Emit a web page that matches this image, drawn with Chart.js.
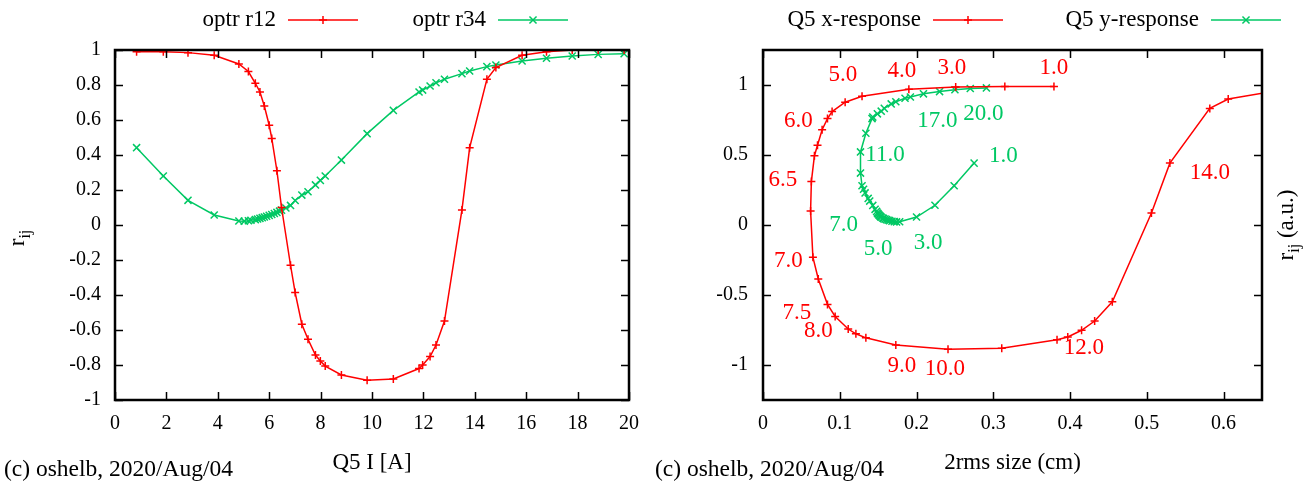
<!DOCTYPE html>
<html>
<head>
<meta charset="utf-8">
<script src="https://cdn.jsdelivr.net/npm/chart.js@4"></script>
<style>
  body { margin: 0; background: #fff; }
  .box { position: absolute; top: 0; width: 652px; height: 483px; }
</style>
</head>
<body>
<div class="box" style="left:0"><canvas id="scan"></canvas></div>
<div class="box" style="left:652px"><canvas id="loop"></canvas></div>
<script>
// Q5 scan, x plane: current [A], optr r12, 2rms size x [cm] (null = off the plot)
const currentR12 = [0.84, 1.88, 2.84, 3.86, 4.82, 5.19, 5.46, 5.64, 5.81, 6.00, 6.10, 6.30, 6.48,
  6.83, 7.01, 7.27, 7.51, 7.80, 7.99, 8.18, 8.81, 9.81, 10.83, 11.83, 11.97, 12.26, 12.49, 12.82,
  13.50, 13.80, 14.47, 14.82, 15.84, 16.79, 17.79, 18.80, 19.81];
const r12 = [0.99, 0.99, 0.985, 0.97, 0.92, 0.877, 0.81, 0.76, 0.68, 0.57, 0.495, 0.31, 0.10,
  -0.23, -0.386, -0.567, -0.653, -0.743, -0.777, -0.806, -0.857, -0.887, -0.88, -0.82, -0.80, -0.752, -0.686, -0.549,
  0.086, 0.442, 0.833, 0.90, 0.97, 0.99, 1.0, 1.0, 1.0];
const sizeX = [0.379, 0.315, 0.251, 0.190, 0.129, 0.107, 0.090, 0.084, 0.077, 0.071, 0.067, 0.063, 0.062,
  0.065, 0.072, 0.084, 0.094, 0.111, 0.121, 0.134, 0.173, 0.241, 0.311, 0.383, 0.397, 0.415, 0.432, 0.455,
  0.506, 0.530, 0.582, 0.606, 0.682, null, null, null, null];

// Q5 scan, y plane: current [A], optr r34, 2rms size y [cm]
const currentR34 = [0.84, 1.88, 2.84, 3.86, 4.82, 5.03, 5.19, 5.29, 5.46, 5.55, 5.64, 5.73, 5.81, 5.90,
  6.00, 6.10, 6.20, 6.30, 6.40, 6.48, 6.65, 6.83, 7.01, 7.27, 7.51, 7.80, 7.99, 8.18, 8.81, 9.81,
  10.83, 11.83, 11.97, 12.26, 12.49, 12.82, 13.50, 13.80, 14.47, 14.82, 15.84, 16.79, 17.79, 18.80, 19.81];
const r34 = [0.442, 0.28, 0.141, 0.057, 0.023, 0.022, 0.024, 0.027, 0.031, 0.034, 0.038, 0.042, 0.046, 0.050,
  0.055, 0.060, 0.066, 0.072, 0.079, 0.085, 0.097, 0.112, 0.14, 0.171, 0.19, 0.229, 0.255, 0.28, 0.371, 0.522,
  0.655, 0.76, 0.771, 0.794, 0.813, 0.833, 0.865, 0.88, 0.905, 0.914, 0.937, 0.953, 0.966, 0.975, 0.979];
const sizeY = [0.275, 0.249, 0.224, 0.200, 0.178, 0.174, 0.171, 0.168, 0.165, 0.163, 0.161, 0.159, 0.157, 0.156,
  0.154, 0.153, 0.152, 0.151, 0.150, 0.149, 0.148, 0.146, 0.143, 0.139, 0.137, 0.133, 0.131, 0.129, 0.127, 0.127,
  0.134, 0.142, 0.143, 0.149, 0.154, 0.158, 0.167, 0.173, 0.185, 0.192, 0.209, 0.230, 0.250, 0.270, 0.291];

// current labels along the size/correlation curves (0 = x-response, 1 = y-response)
const tagText   = ['1.0', '3.0', '4.0', '5.0', '6.0', '6.5', '7.0', '7.5', '8.0', '9.0', '10.0', '12.0', '14.0',
  '1.0', '3.0', '5.0', '7.0', '11.0', '17.0', '20.0'];
const tagSize   = [0.379, 0.246, 0.181, 0.104, 0.046, 0.026, 0.033, 0.044, 0.072, 0.181, 0.237, 0.418, 0.582,
  0.313, 0.215, 0.150, 0.105, 0.159, 0.227, 0.287];
const tagR      = [1.124, 1.124, 1.10, 1.069, 0.743, 0.319, -0.257, -0.626, -0.757, -1.007, -1.031, -0.876, 0.374,
  0.493, -0.126, -0.174, -0.002, 0.498, 0.743, 0.791];
const tagSeries = [0, 0, 0, 0, 0, 0, 0, 0, 0, 0, 0, 0, 0, 1, 1, 1, 1, 1, 1, 1];

// axis ticks
const ticksCurrent = [0, 2, 4, 6, 8, 10, 12, 14, 16, 18, 20];
const ticksR = [-1, -0.8, -0.6, -0.4, -0.2, 0, 0.2, 0.4, 0.6, 0.8, 1];
const ticksSize = [0, 0.1, 0.2, 0.3, 0.4, 0.5, 0.6];
const ticksRLoop = [-1, -0.5, 0, 0.5, 1];

const RED = '#ff0000';
const GREEN = '#00c864';
const SERIF = '"Liberation Serif", "Times New Roman", serif';

Chart.defaults.font.family = SERIF;
Chart.defaults.font.size = 20;
Chart.defaults.color = '#000';

function marker(ctx, style, cx, cy, r) {
  ctx.beginPath();
  if (style === 'cross') {
    ctx.moveTo(cx - r, cy); ctx.lineTo(cx + r, cy);
    ctx.moveTo(cx, cy - r); ctx.lineTo(cx, cy + r);
  } else {
    const d = r * Math.SQRT1_2;
    ctx.moveTo(cx - d, cy - d); ctx.lineTo(cx + d, cy + d);
    ctx.moveTo(cx - d, cy + d); ctx.lineTo(cx + d, cy - d);
  }
  ctx.stroke();
}

// r_ij with a real subscript, rotated along the y axis
function yTitle(ctx, x, y, tail) {
  ctx.save();
  ctx.translate(x, y);
  ctx.rotate(-Math.PI / 2);
  ctx.fillStyle = '#000';
  ctx.textBaseline = 'alphabetic';
  ctx.textAlign = 'left';
  const big = '23px ' + SERIF, small = '16px ' + SERIF;
  ctx.font = big;
  const wr = ctx.measureText('r').width, wt = tail ? ctx.measureText(tail).width : 0;
  ctx.font = small;
  const ws = ctx.measureText('ij').width;
  let px = -(wr + ws + wt) / 2;
  ctx.font = big; ctx.fillText('r', px, 0); px += wr;
  ctx.font = small; ctx.fillText('ij', px, 6); px += ws;
  if (tail) { ctx.font = big; ctx.fillText(tail, px, 0); }
  ctx.restore();
}

// gnuplot style frame, inward ticks on all sides, key, titles and stamp
const gnuplotLook = {
  id: 'gnuplotLook',
  afterDatasetsDraw(chart, args, opts) {
    const {ctx, chartArea: a, scales: {x, y}} = chart;
    ctx.save();
    ctx.strokeStyle = '#000';
    ctx.lineWidth = 1.5;
    ctx.beginPath();
    x.ticks.forEach(t => {
      const px = Math.round(x.getPixelForValue(t.value)) + 0.5;
      ctx.moveTo(px, a.bottom); ctx.lineTo(px, a.bottom - 8);
      ctx.moveTo(px, a.top); ctx.lineTo(px, a.top + 8);
    });
    y.ticks.forEach(t => {
      const py = Math.round(y.getPixelForValue(t.value)) + 0.5;
      ctx.moveTo(a.left, py); ctx.lineTo(a.left + 8, py);
      ctx.moveTo(a.right, py); ctx.lineTo(a.right - 8, py);
    });
    ctx.stroke();
    ctx.lineWidth = 2.5;
    ctx.strokeRect(a.left, a.top, a.width, a.height);

    // key
    ctx.font = '23px ' + SERIF;
    ctx.textAlign = 'right';
    ctx.textBaseline = 'middle';
    ctx.fillStyle = '#000';
    opts.key.forEach(k => {
      ctx.fillText(k.text, k.right, 20);
      ctx.strokeStyle = k.color;
      ctx.lineWidth = 1.5;
      ctx.beginPath(); ctx.moveTo(k.right + 12, 20); ctx.lineTo(k.right + 82, 20); ctx.stroke();
      marker(ctx, k.style, k.right + 47, 20, k.style === 'cross' ? 4 : 5);
    });

    // stamp
    ctx.font = '23.5px ' + SERIF;
    ctx.textAlign = 'left';
    ctx.fillStyle = '#000';
    ctx.fillText('(c) oshelb, 2020/Aug/04', opts.stampX, 470);

    yTitle(ctx, opts.titleX, opts.titleY, opts.titleTail);
    ctx.restore();
  }
};

const currentTags = {
  id: 'currentTags',
  afterDatasetsDraw(chart) {
    const {ctx, scales: {x, y}} = chart;
    ctx.save();
    ctx.font = '23px ' + SERIF;
    ctx.textAlign = 'center';
    ctx.textBaseline = 'middle';
    tagText.forEach((t, i) => {
      ctx.fillStyle = tagSeries[i] === 0 ? RED : GREEN;
      ctx.fillText(t, x.getPixelForValue(tagSize[i]), y.getPixelForValue(tagR[i]));
    });
    ctx.restore();
  }
};

function series(label, color, style, xs, ys) {
  return {
    label: label,
    data: xs.map((v, i) => ({x: v, y: ys[i]})).filter(p => p.x !== null),
    borderColor: color,
    backgroundColor: color,
    borderWidth: 1.5,
    pointStyle: style,
    pointRadius: style === 'cross' ? 4 : 5,
    pointBorderWidth: 1.5,
    showLine: true,
    tension: 0
  };
}

function axis(min, max, ticks, extra) {
  return Object.assign({
    type: 'linear',
    min: min,
    max: max,
    afterBuildTicks: s => { s.ticks = ticks.map(v => ({value: v})); },
    grid: {display: false, drawTicks: false},
    border: {display: false}
  }, extra);
}

new Chart(document.getElementById('scan'), {
  type: 'scatter',
  data: {
    datasets: [
      series('optr r12', RED, 'cross', currentR12, r12),
      series('optr r34', GREEN, 'crossRot', currentR34, r34)
    ]
  },
  options: {
    responsive: true,
    maintainAspectRatio: false,
    animation: false,
    events: [],
    layout: {padding: {top: 50, right: 23, left: 0, bottom: 0}},
    plugins: {
      legend: {display: false},
      tooltip: {enabled: false},
      gnuplotLook: {
        key: [
          {text: 'optr r12', right: 276, color: RED, style: 'cross'},
          {text: 'optr r34', right: 486, color: GREEN, style: 'crossRot'}
        ],
        stampX: 4, titleX: 24, titleY: 238, titleTail: ''
      }
    },
    scales: {
      x: axis(0, 20, ticksCurrent, {
        ticks: {padding: 12, color: '#000', callback: v => String(v)},
        title: {display: true, text: 'Q5 I [A]', font: {size: 23}, padding: {top: 0, bottom: 6}},
        afterFit: s => { s.height = 83; }
      }),
      y: axis(-1, 1, ticksR, {
        ticks: {padding: 14, color: '#000', callback: v => String(v)},
        afterFit: s => { s.width = 115; }
      })
    }
  },
  plugins: [gnuplotLook]
});

new Chart(document.getElementById('loop'), {
  type: 'scatter',
  data: {
    datasets: [
      series('Q5 x-response', RED, 'cross', sizeX, r12),
      series('Q5 y-response', GREEN, 'crossRot', sizeY, r34)
    ]
  },
  options: {
    responsive: true,
    maintainAspectRatio: false,
    animation: false,
    events: [],
    layout: {padding: {top: 50, right: 42, left: 0, bottom: 0}},
    plugins: {
      legend: {display: false},
      tooltip: {enabled: false},
      gnuplotLook: {
        key: [
          {text: 'Q5 x-response', right: 269, color: RED, style: 'cross'},
          {text: 'Q5 y-response', right: 547, color: GREEN, style: 'crossRot'}
        ],
        stampX: 3, titleX: 641, titleY: 225, titleTail: ' (a.u.)'
      }
    },
    scales: {
      x: axis(0, 0.65, ticksSize, {
        ticks: {padding: 12, color: '#000', callback: v => String(v)},
        title: {display: true, text: '2rms size (cm)', font: {size: 23}, padding: {top: 0, bottom: 6}},
        afterFit: s => { s.height = 83; }
      }),
      y: axis(-1.25, 1.25, ticksRLoop, {
        ticks: {padding: 15, color: '#000', callback: v => String(v)},
        afterFit: s => { s.width = 111; }
      })
    }
  },
  plugins: [gnuplotLook, currentTags]
});
</script>
</body>
</html>
